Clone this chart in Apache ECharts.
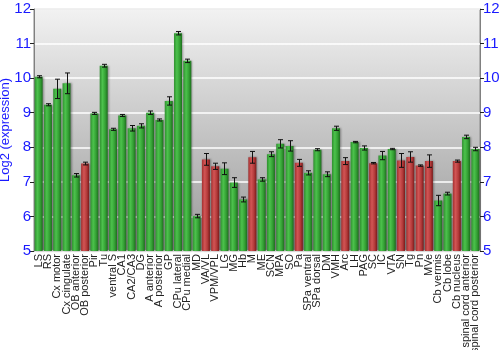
<!DOCTYPE html>
<html><head><meta charset="utf-8">
<script src="https://cdn.jsdelivr.net/npm/echarts@6/dist/echarts.min.js"></script>
<style>html,body{margin:0;padding:0;background:#fff}#c{width:500px;height:350px}</style>
</head><body><div id="c"></div>
<script>
const categories = ["LS","RS","Cx motor","Cx cingulate","OB anterior","OB posterior","Pir","Tu","ventral S","CA1","CA2/CA3","DG","A anterior","A posterior","GP","CPu lateral","CPu medial","MD","VA/VL","VPM/VPL","LG","MG","Hb","M","ME","SCN","MPA","SO","Pa","SPa ventral","SPa dorsal","DM","VMH","Arc","LH","PAG","SC","IC","VTA","SN","Tg","Pn","MVe","Cb vermis","Cb lobe","Cb nucleus","spinal cord anterior","spinal cord posterior"];
const values = [10.04,9.23,9.69,9.85,7.19,7.53,8.98,10.36,8.52,8.92,8.55,8.62,9.0,8.79,9.34,11.3,10.5,6.01,7.65,7.45,7.38,6.98,6.49,7.71,7.07,7.8,8.1,8.04,7.55,7.26,7.93,7.22,8.55,7.6,8.15,7.98,7.54,7.76,7.95,7.62,7.72,7.47,7.6,6.46,6.66,7.6,8.3,7.95];
const errors = [0.03,0.03,0.28,0.3,0.05,0.04,0.03,0.04,0.03,0.03,0.08,0.06,0.05,0.03,0.12,0.05,0.05,0.05,0.17,0.09,0.17,0.14,0.07,0.17,0.05,0.07,0.12,0.15,0.1,0.06,0.03,0.07,0.06,0.1,0.02,0.06,0.02,0.12,0.02,0.2,0.15,0.02,0.18,0.15,0.04,0.03,0.05,0.05];
const redGroup = ["OB posterior","VA/VL","VPM/VPL","M","Pa","Arc","SC","SN","Tg","Pn","MVe","Cb nucleus"];
const yTicks = [5,6,7,8,9,10,11,12];

const green = {type:'linear',x:0,y:0,x2:1,y2:0,colorStops:[{offset:0,color:'#2f8f2f'},{offset:0.35,color:'#4cc24c'},{offset:0.7,color:'#34a034'},{offset:1,color:'#1d6e1d'}]};
const red = {type:'linear',x:0,y:0,x2:1,y2:0,colorStops:[{offset:0,color:'#a33030'},{offset:0.35,color:'#d25555'},{offset:0.7,color:'#b33a3a'},{offset:1,color:'#7a1a1a'}]};

const barData = categories.map((c,i)=>({value:values[i],itemStyle:{color: redGroup.includes(c)?red:green}}));
const errData = categories.map((c,i)=>[i, values[i]-errors[i], values[i]+errors[i]]);

const chart = echarts.init(document.getElementById('c'));
const yCommon = {
  type:'value', min:yTicks[0], max:yTicks[yTicks.length-1], interval:1,
  axisLine:{show:true,lineStyle:{color:'#808080',width:1}},
  axisTick:{show:true,length:4,lineStyle:{color:'#222'}},
  axisLabel:{color:'#1a1aff',fontSize:15,fontFamily:'Liberation Sans, Arial',margin:3}
};
chart.setOption({
  animation:false,
  grid:{left:34,right:20,top:9,bottom:99,containLabel:false,outerBoundsMode:'none',show:true,borderColor:'#888',borderWidth:1,
    backgroundColor:{type:'linear',x:0,y:0,x2:0,y2:1,colorStops:[{offset:0,color:'#f2f2f2'},{offset:1,color:'#999999'}]}},
  xAxis:{type:'category',data:categories,
    axisLine:{show:false},axisTick:{show:false},
    axisLabel:{interval:0,rotate:90,fontSize:11,color:'#222',fontFamily:'Liberation Sans, Arial',margin:3}},
  yAxis:[
    Object.assign({},yCommon,{position:'left',name:'Log2 (expression)',nameLocation:'middle',nameGap:22,nameMoveOverlap:false,
      nameTextStyle:{color:'#1a1aff',fontSize:13,fontFamily:'Liberation Sans, Arial'},
      splitLine:{show:true,lineStyle:{color:'#ffffff',width:1.5}}}),
    Object.assign({},yCommon,{position:'right',splitLine:{show:false}})
  ],
  series:[
    {type:'bar',data:barData,barWidth:8,
     itemStyle:{shadowColor:'rgba(0,0,0,0.35)',shadowBlur:2,shadowOffsetX:1}},
    {type:'custom',data:errData,z:10,
     renderItem:function(params,api){
       const x=api.value(0);
       const lo=api.coord([x,api.value(1)]);
       const hi=api.coord([x,api.value(2)]);
       const cx=Math.round(lo[0])+0.5, w=2.5;
       const st={stroke:'#111',lineWidth:1};
       return {type:'group',children:[
         {type:'line',shape:{x1:cx,y1:lo[1],x2:cx,y2:hi[1]},style:st},
         {type:'line',shape:{x1:cx-w,y1:lo[1],x2:cx+w,y2:lo[1]},style:st},
         {type:'line',shape:{x1:cx-w,y1:hi[1],x2:cx+w,y2:hi[1]},style:st}
       ]};
     }}
  ]
});
</script></body></html>
